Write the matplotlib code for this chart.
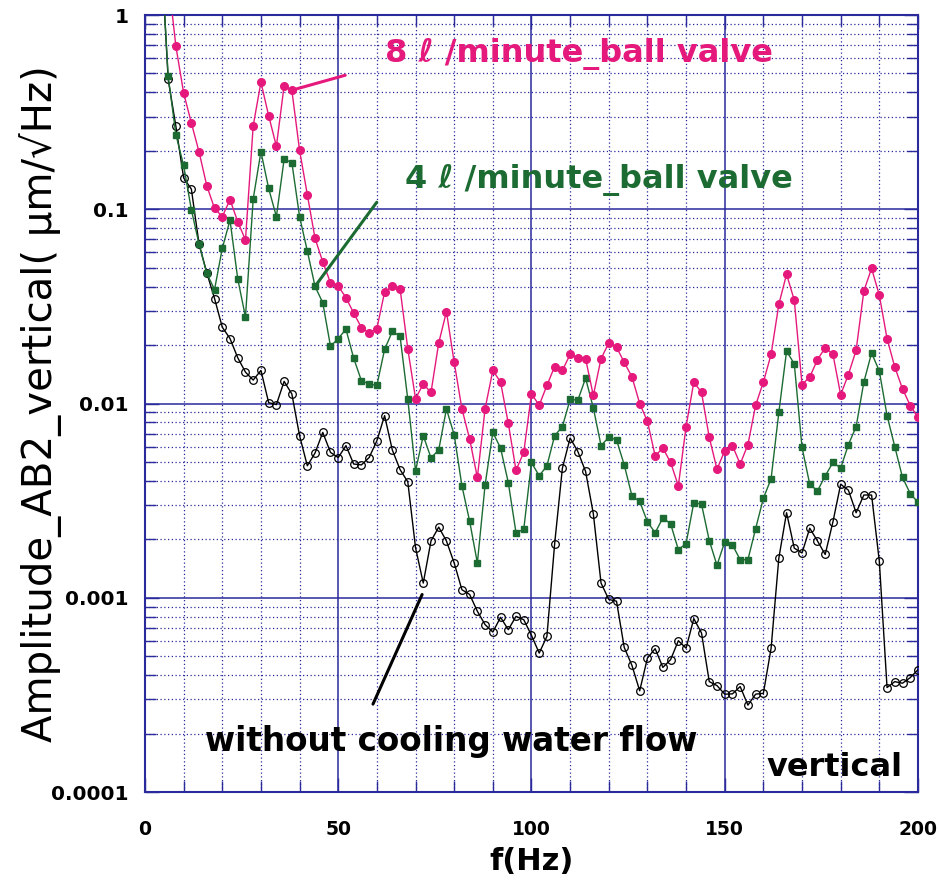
import numpy as np
import matplotlib
matplotlib.use('Agg')
import matplotlib.pyplot as plt
from matplotlib.ticker import MultipleLocator, LogLocator, NullFormatter

# ── data ─────────────────────────────────────────────────────────────────────
freq = np.arange(4, 201, 2)   # Hz, 2 Hz spacing

amp_none = [  # without cooling water flow
    2.5, 0.466, 0.267, 0.145, 0.127, 0.066, 0.047, 0.0347, 0.0247, 0.0216,
    0.0172, 0.0145, 0.0132, 0.0148, 0.0101, 0.00987, 0.013, 0.0112, 0.00683, 0.00478,
    0.00556, 0.0071, 0.0056, 0.00527, 0.00607, 0.00488, 0.00483, 0.00527, 0.00643, 0.00866,
    0.00576, 0.00457, 0.00395, 0.00181, 0.00119, 0.00196, 0.00231, 0.00196, 0.00151, 0.0011,
    0.00104, 0.000852, 0.000727, 0.000666, 0.000793, 0.000685, 0.000802, 0.000771, 0.00064, 0.000519,
    0.000633, 0.0019, 0.00465, 0.00664, 0.00566, 0.00447, 0.00271, 0.00119, 0.00098, 0.00096,
    0.000555, 0.000448, 0.000332, 0.000489, 0.000547, 0.000438, 0.00048, 0.000601, 0.00055, 0.000781,
    0.000658, 0.00037, 0.000353, 0.000319, 0.00032, 0.000349, 0.00028, 0.000319, 0.000322, 0.00055,
    0.0016, 0.00274, 0.0018, 0.0017, 0.00228, 0.00196, 0.00167, 0.00246, 0.00384, 0.00358,
    0.00274, 0.00338, 0.00338, 0.00154, 0.000345, 0.00037, 0.000363, 0.000388, 0.000426,
]

amp_4l = [  # 4 l/minute, ball valve
    2.5, 0.484, 0.242, 0.168, 0.0994, 0.066, 0.0467, 0.0386, 0.0629, 0.088,
    0.0438, 0.0279, 0.113, 0.198, 0.128, 0.0916, 0.181, 0.174, 0.0916, 0.061,
    0.0401, 0.033, 0.0197, 0.0216, 0.0241, 0.0171, 0.0131, 0.0126, 0.0124, 0.019,
    0.0235, 0.0222, 0.0105, 0.0045, 0.00683, 0.00525, 0.00576, 0.00938, 0.0069, 0.00377,
    0.00248, 0.00151, 0.00381, 0.0071, 0.0059, 0.00392, 0.00216, 0.00225, 0.00497, 0.00424,
    0.00478, 0.00683, 0.0076, 0.0105, 0.0104, 0.0135, 0.0095, 0.00607, 0.0067, 0.0065,
    0.00483, 0.00334, 0.00313, 0.00246, 0.00216, 0.00258, 0.0024, 0.00177, 0.0019, 0.00309,
    0.00303, 0.00197, 0.00147, 0.00194, 0.00187, 0.00157, 0.00157, 0.00227, 0.00325, 0.0041,
    0.009, 0.0186, 0.016, 0.00594, 0.00384, 0.00355, 0.00424, 0.00497, 0.00465, 0.00614,
    0.0076, 0.0129, 0.0182, 0.0147, 0.00867, 0.006, 0.00416, 0.00344, 0.0031,
]

amp_8l = [  # 8 l/minute, ball valve
    np.nan, 1.56, 0.69, 0.397, 0.278, 0.197, 0.132, 0.101, 0.0916, 0.112,
    0.0863, 0.0694, 0.269, 0.451, 0.303, 0.211, 0.433, 0.41, 0.201, 0.119,
    0.0708, 0.0536, 0.0418, 0.0402, 0.0351, 0.0292, 0.0246, 0.0231, 0.0243, 0.0375,
    0.0402, 0.039, 0.0191, 0.0106, 0.0126, 0.0114, 0.0205, 0.0297, 0.0163, 0.0094,
    0.00656, 0.00416, 0.0094, 0.0148, 0.0129, 0.00791, 0.00454, 0.0056, 0.0112, 0.0098,
    0.0124, 0.0155, 0.0148, 0.0179, 0.0172, 0.017, 0.011, 0.017, 0.0205, 0.0195,
    0.0163, 0.0137, 0.01, 0.0081, 0.00538, 0.0059, 0.00497, 0.00377, 0.0076, 0.0129,
    0.0114, 0.00669, 0.00459, 0.00571, 0.00607, 0.00488, 0.00614, 0.0098, 0.0129, 0.0179,
    0.0324, 0.0463, 0.034, 0.0125, 0.0137, 0.0168, 0.0194, 0.0179, 0.0111, 0.0141,
    0.0188, 0.038, 0.0496, 0.0361, 0.0216, 0.0154, 0.0119, 0.00976, 0.0085,
]

yticks = [1e-4, 1e-3, 1e-2, 1e-1, 1]
ytick_labels = ['0.0001', '0.001', '0.01', '0.1', '1']
xticks = [0, 50, 100, 150, 200]

PINK = '#e5197c'
GREEN = '#1c6b32'
NAVY = '#2a2a9c'
FONT = ['DejaVu Sans']

# ── figure ───────────────────────────────────────────────────────────────────
fig = plt.figure(figsize=(9.39, 8.93), dpi=100)
ax = fig.add_axes([0.1544, 0.1131, 0.8232, 0.8701])

ax.plot(freq, amp_none, color='black', lw=1.0, marker='o', ms=5.5,
        mfc='none', mec='black', mew=0.9, zorder=3)
ax.plot(freq, amp_4l, color=GREEN, lw=1.0, marker='s', ms=5.0,
        mfc=GREEN, mec=GREEN, zorder=4)
ax.plot(freq, amp_8l, color=PINK, lw=1.0, marker='o', ms=5.5,
        mfc=PINK, mec=PINK, zorder=5)

ax.set_yscale('log')
ax.set_xlim(0, 200)
ax.set_ylim(1e-4, 1)

ax.set_xticks(xticks)
ax.set_xticklabels([str(v) for v in xticks], fontsize=13.5, fontweight='bold', family=FONT)
ax.xaxis.set_minor_locator(MultipleLocator(10))
ax.set_yticks(yticks)
ax.set_yticklabels(ytick_labels, fontsize=14.5, fontweight='bold', family=FONT)
ax.yaxis.set_minor_locator(LogLocator(base=10, subs=np.arange(2, 10)))
ax.yaxis.set_minor_formatter(NullFormatter())

ax.grid(which='major', color=NAVY, lw=1.1, ls='-')
ax.grid(which='minor', color=NAVY, lw=0.9, ls=(0, (1, 2)))
ax.tick_params(which='both', direction='in', colors=NAVY, top=True, right=True,
               labelcolor='black')
ax.tick_params(axis='x', which='major', length=10, width=1.0, pad=20)
ax.tick_params(axis='y', which='major', length=10, width=1.0, pad=12)
ax.tick_params(which='minor', length=8, width=1.0)
for s in ax.spines.values():
    s.set_color(NAVY)
    s.set_linewidth(1.5)
ax.set_axisbelow(True)

ax.set_xlabel('f(Hz)', fontsize=22, fontweight='bold', family=FONT, labelpad=6)
ax.set_ylabel('Amplitude_AB2_vertical( μm/√Hz)', fontsize=29, family=FONT, labelpad=-8)

# ── annotations ──────────────────────────────────────────────────────────────
i38 = list(freq).index(38)
i44 = list(freq).index(44)
i72 = list(freq).index(72)

ax.annotate('', xy=(freq[i38], amp_8l[i38]), xytext=(52.5, 0.494),
            arrowprops=dict(arrowstyle='-', color=PINK, lw=2.2), zorder=6)
ax.text(62.0, 0.627, '8 ℓ /minute_ball valve', color=PINK, fontsize=23,
        fontweight='bold', family=FONT, va='center', ha='left')

ax.annotate('', xy=(freq[i44], amp_4l[i44]), xytext=(60.4, 0.1116),
            arrowprops=dict(arrowstyle='-', color=GREEN, lw=2.2), zorder=6)
ax.text(67.2, 0.1415, '4 ℓ /minute_ball valve', color=GREEN, fontsize=23,
        fontweight='bold', family=FONT, va='center', ha='left')

ax.annotate('', xy=(freq[i72], amp_none[i72] * 0.9), xytext=(58.7, 0.000275),
            arrowprops=dict(arrowstyle='-', color='black', lw=2.2), zorder=6)
ax.text(15.5, 0.000182, 'without cooling water flow', color='black', fontsize=23.5,
        fontweight='bold', family=FONT, va='center', ha='left')
ax.text(160.8, 0.000133, 'vertical', color='black', fontsize=23,
        fontweight='bold', family=FONT, va='center', ha='left')

fig.savefig('out.png', dpi=100)
print('Saved: out.png')
